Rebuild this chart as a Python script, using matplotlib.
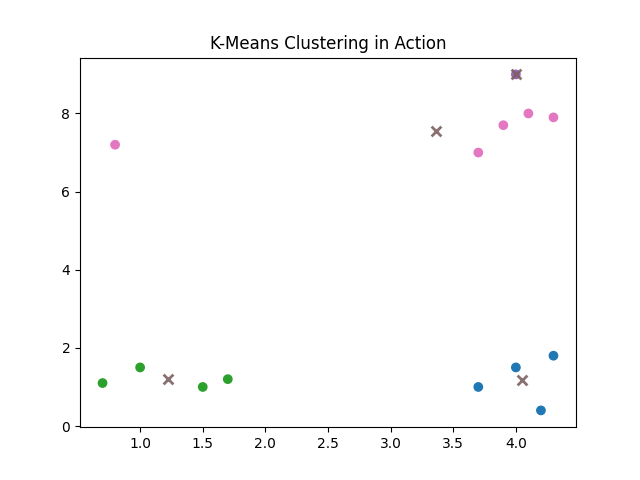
import matplotlib
matplotlib.use("Agg")
import matplotlib.pyplot as plt
import numpy as np

x = [0.7, 1.0, 1.5, 1.7, 3.7, 4.0, 4.2, 4.3, 0.8, 3.7, 3.9, 4.1, 4.3, 4.0]
y = [1.1, 1.5, 1.0, 1.2, 1.0, 1.5, 0.4, 1.8, 7.2, 7.0, 7.7, 8.0, 7.9, 9.0]
labels = [0, 0, 0, 0, 1, 1, 1, 1, 2, 2, 2, 2, 2, 3]
colors = ['tab:green', 'tab:blue', 'tab:pink', 'tab:purple']

x = np.array(x); y = np.array(y); labels = np.array(labels)
fig, ax = plt.subplots(figsize=(6.4, 4.8), dpi=100)
ax.scatter(x, y, c=[colors[l] for l in labels])
cx = [x[labels == k].mean() for k in range(4)]
cy = [y[labels == k].mean() for k in range(4)]
ax.scatter(cx, cy, marker='x', c='#7f6160', s=50, linewidths=2, alpha=0.9)
ax.set_title('K-Means Clustering in Action')
fig.savefig('out.png')
